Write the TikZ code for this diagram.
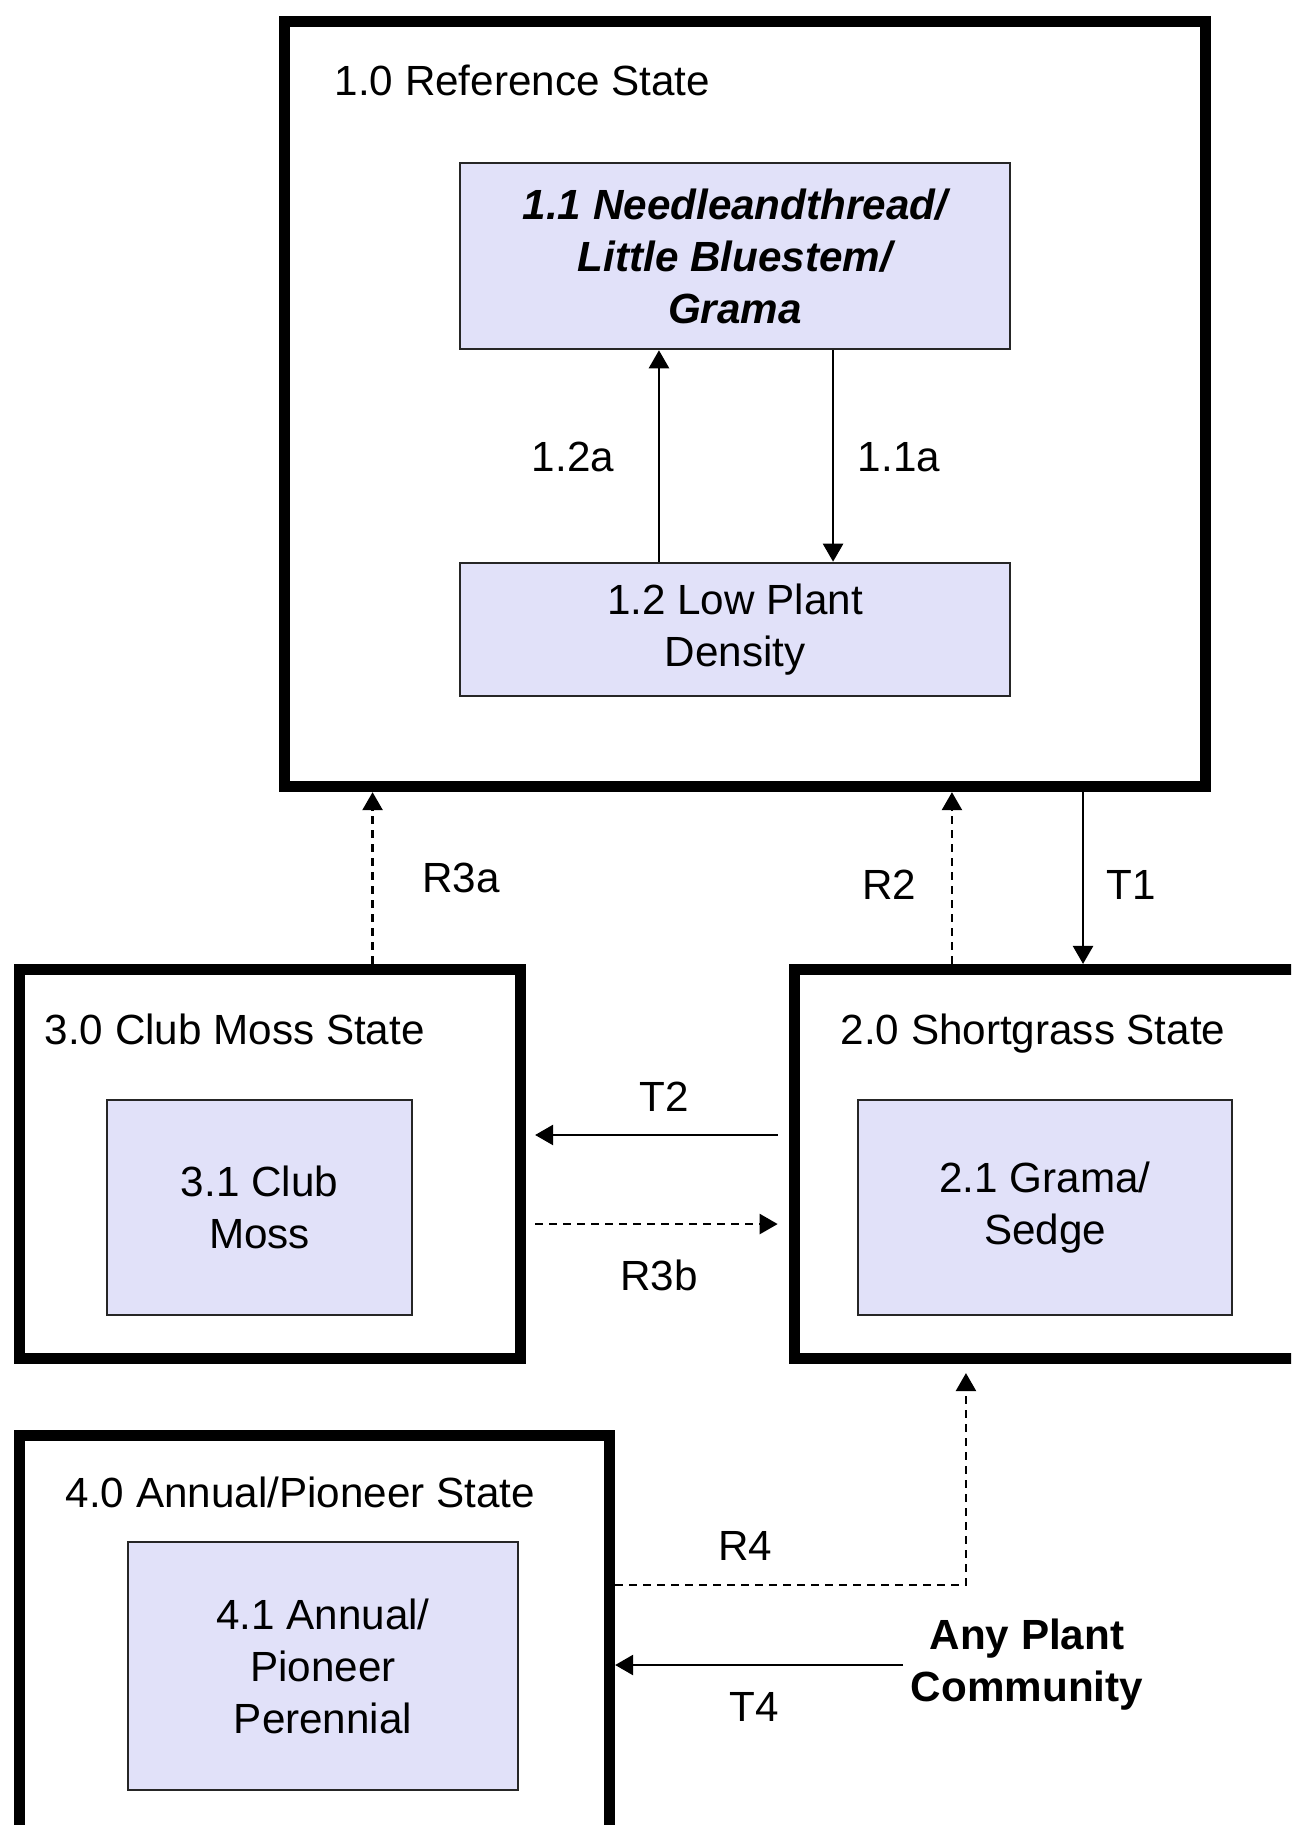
\documentclass[tikz,border=0pt]{standalone}
\usepackage{fontspec}
\setmainfont{Liberation Sans}
\usepackage{tikz}
\usetikzlibrary{arrows.meta,positioning}
\definecolor{phasefill}{RGB}{225,225,249}
\tikzstyle{statebox} = [draw, line width=3.1pt, fill=white]
\tikzstyle{phasebox} = [draw=black!85, line width=0.7pt, fill=phasefill, align=center, inner sep=0pt]
\tikzstyle{ttl} = [anchor=base west, inner sep=0pt]
\tikzstyle{lbl} = [inner sep=0pt]
\tikzstyle{tline} = [line width=0.7pt, -{Triangle[length=0.18cm,width=0.2cm]}]
\tikzstyle{rline} = [tline, dash pattern=on 0.08cm off 0.06cm]

\begin{document}
\begin{tikzpicture}[x=0.01cm, y=-0.01cm, font=\fontsize{12}{14.8}\selectfont]
\useasboundingbox (0,0) rectangle (1291,1825);
\clip (0,0) rectangle (1291,1825);

% states
\node[statebox, minimum width=9.21cm, minimum height=7.65cm] (ref) at (745,404) {};
\node[statebox, minimum width=5.01cm, minimum height=3.89cm] (club) at (270,1164) {};
\node[statebox, minimum width=5.055cm, minimum height=3.89cm] (short) at (1047,1164) {};
\node[statebox, minimum width=5.9cm, minimum height=4.145cm] (annual) at (314.5,1642.75) {};

\node[ttl] (reft) at (334,96) {1.0 Reference State};
\node[ttl] (clubt) at (44,1044) {3.0 Club Moss State};
\node[ttl] (shortt) at (840,1044) {2.0 Shortgrass State};
\node[ttl] (annualt) at (65,1507) {4.0 Annual/Pioneer State};

% community phases
\node[phasebox, minimum width=5.5cm, minimum height=1.86cm, font=\fontsize{12}{14.8}\selectfont\bfseries\itshape] (n11) at (735,256) {1.1 Needleandthread/\\Little Bluestem/\\Grama};
\node[phasebox, minimum width=5.5cm, minimum height=1.33cm] (n12) at (735,629.5) {1.2 Low Plant\\Density};
\node[phasebox, minimum width=3.05cm, minimum height=2.15cm] (n31) at (259.5,1207.5) {3.1 Club\\Moss};
\node[phasebox, minimum width=3.74cm, minimum height=2.15cm] (n21) at (1045,1207.5) {2.1 Grama/\\Sedge};
\node[phasebox, minimum width=3.9cm, minimum height=2.48cm] (n41) at (323,1666) {4.1 Annual/\\Pioneer\\Perennial};

\node[align=center, inner sep=2pt, font=\fontsize{12}{14.8}\selectfont\bfseries] (any) at (1027,1665) {Any Plant\\Community};

% pathways
\draw[tline] ([xshift=-0.76cm]n12.north) -- ([xshift=-0.76cm]n11.south);
\draw[tline] ([xshift=0.98cm]n11.south) -- ([xshift=0.98cm]n12.north);
\node[lbl] (l12a) at (573,457) {1.2a};
\node[lbl] (l11a) at (899,457) {1.1a};

\coordinate (r3a) at ([xshift=1.025cm]club.north);
\draw[rline] (r3a) -- (r3a |- ref.south);
\node[lbl] (lr3a) at (461,878) {R3a};

\coordinate (r2) at ([xshift=-0.95cm]short.north);
\draw[rline] (r2) -- (r2 |- ref.south);
\node[lbl] (lr2) at (889,885) {R2};

\coordinate (t1) at ([xshift=0.36cm]short.north);
\draw[tline] (t1 |- ref.south) -- (t1);
\node[lbl] (lt1) at (1131,885) {T1};

\coordinate (t2) at ([xshift=-0.11cm,yshift=0.29cm]short.west);
\draw[tline] (t2) -- ([xshift=0.09cm]t2 -| club.east);
\node[lbl] (lt2) at (664,1097) {T2};

\coordinate (r3b) at ([xshift=0.09cm,yshift=-0.6cm]club.east);
\draw[rline] (r3b) -- ([xshift=-0.11cm]r3b -| short.west);
\node[lbl] (lr3b) at (659,1275) {R3b};

\coordinate (r4) at ([xshift=-0.81cm,yshift=-0.09cm]short.south);
\draw[rline] ([yshift=0.5775cm]annual.east) -| (r4);
\node[lbl] (lr4) at (745,1546) {R4};

\draw[tline] (any.west) -- (any.west -| annual.east);
\node[lbl] (lt4) at (754,1707) {T4};
\end{tikzpicture}
\end{document}
